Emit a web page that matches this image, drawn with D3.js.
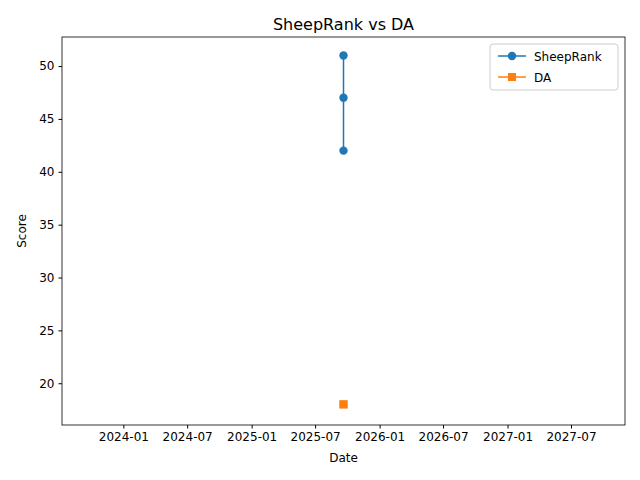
<!DOCTYPE html>
<html><head><meta charset="utf-8">
<script src="https://cdn.jsdelivr.net/npm/d3@7"></script>
<style>body{margin:0;background:#fff}text{font-family:"DejaVu Sans",sans-serif}</style>
</head><body><svg id="c" width="640" height="480"></svg>
<script>
const dateStr = "2025-09-20";
const sheepRank = [42, 47, 51];
const da = [18, 18];
const yTicks = [20, 25, 30, 35, 40, 45, 50];
const xTickLabels = ["2024-01","2024-07","2025-01","2025-07","2026-01","2026-07","2027-01","2027-07"];

const svg = d3.select("#c");
const L=62,R=625,T=37,B=425;
const parse = d3.timeParse("%Y-%m-%d");
const d0 = parse(dateStr);
const x = d3.scaleTime().domain([d3.timeDay.offset(d0,-803), d3.timeDay.offset(d0,803)]).range([L,R]);
const y = d3.scaleLinear().domain([16.05,52.75]).range([B,T]);
const ptm = d3.timeParse("%Y-%m");

const gx = svg.append("g").attr("transform",`translate(0,${B})`)
  .call(d3.axisBottom(x).tickValues(xTickLabels.map(ptm)).tickFormat(d3.timeFormat("%Y-%m")).tickSize(3.5).tickPadding(4));
const gy = svg.append("g").attr("transform",`translate(${L},0)`)
  .call(d3.axisLeft(y).tickValues(yTicks).tickSize(3.5).tickPadding(4));
[gx,gy].forEach(g=>{g.select(".domain").remove();g.selectAll("text").attr("font-size",12).attr("fill","#000").style("font-family","DejaVu Sans");g.selectAll("line").attr("stroke","#000");});
svg.append("rect").attr("x",L).attr("y",T).attr("width",R-L).attr("height",B-T).attr("fill","none").attr("stroke","#000").attr("stroke-width",0.8);

const line = d3.line().x(()=>x(d0)).y(d=>y(d));
const series=[{name:"SheepRank",vals:sheepRank,c:"#1f77b4",m:"o"},{name:"DA",vals:da,c:"#ff7f0e",m:"s"}];
series.forEach(s=>{
  svg.append("path").attr("d",line(s.vals)).attr("stroke",s.c).attr("stroke-width",1.5).attr("fill","none");
  s.vals.forEach(v=>{
    if(s.m==="o") svg.append("circle").attr("cx",x(d0)).attr("cy",y(v)).attr("r",4.2).attr("fill",s.c);
    else svg.append("rect").attr("x",x(d0)-4).attr("y",y(v)-4).attr("width",8).attr("height",8).attr("fill",s.c);
  });
});

svg.append("text").attr("x",(L+R)/2).attr("y",T-7).attr("text-anchor","middle").attr("font-size",16).text("SheepRank vs DA");
svg.append("text").attr("x",(L+R)/2).attr("y",462).attr("text-anchor","middle").attr("font-size",12).text("Date");
svg.append("text").attr("transform",`translate(26,${(T+B)/2}) rotate(-90)`).attr("text-anchor","middle").attr("font-size",12).text("Score");

const lg=svg.append("g").attr("transform","translate(490,44)");
lg.append("rect").attr("width",128).attr("height",46).attr("rx",3).attr("fill","#fff").attr("stroke","#ccc");
series.forEach((s,i)=>{
  const yy=12+i*21;
  lg.append("line").attr("x1",8).attr("x2",36).attr("y1",yy).attr("y2",yy).attr("stroke",s.c).attr("stroke-width",1.5);
  if(s.m==="o") lg.append("circle").attr("cx",22).attr("cy",yy).attr("r",4.2).attr("fill",s.c);
  else lg.append("rect").attr("x",18).attr("y",yy-4).attr("width",8).attr("height",8).attr("fill",s.c);
  lg.append("text").attr("x",44).attr("y",yy+4.5).attr("font-size",12).text(s.name);
});
</script></body></html>
